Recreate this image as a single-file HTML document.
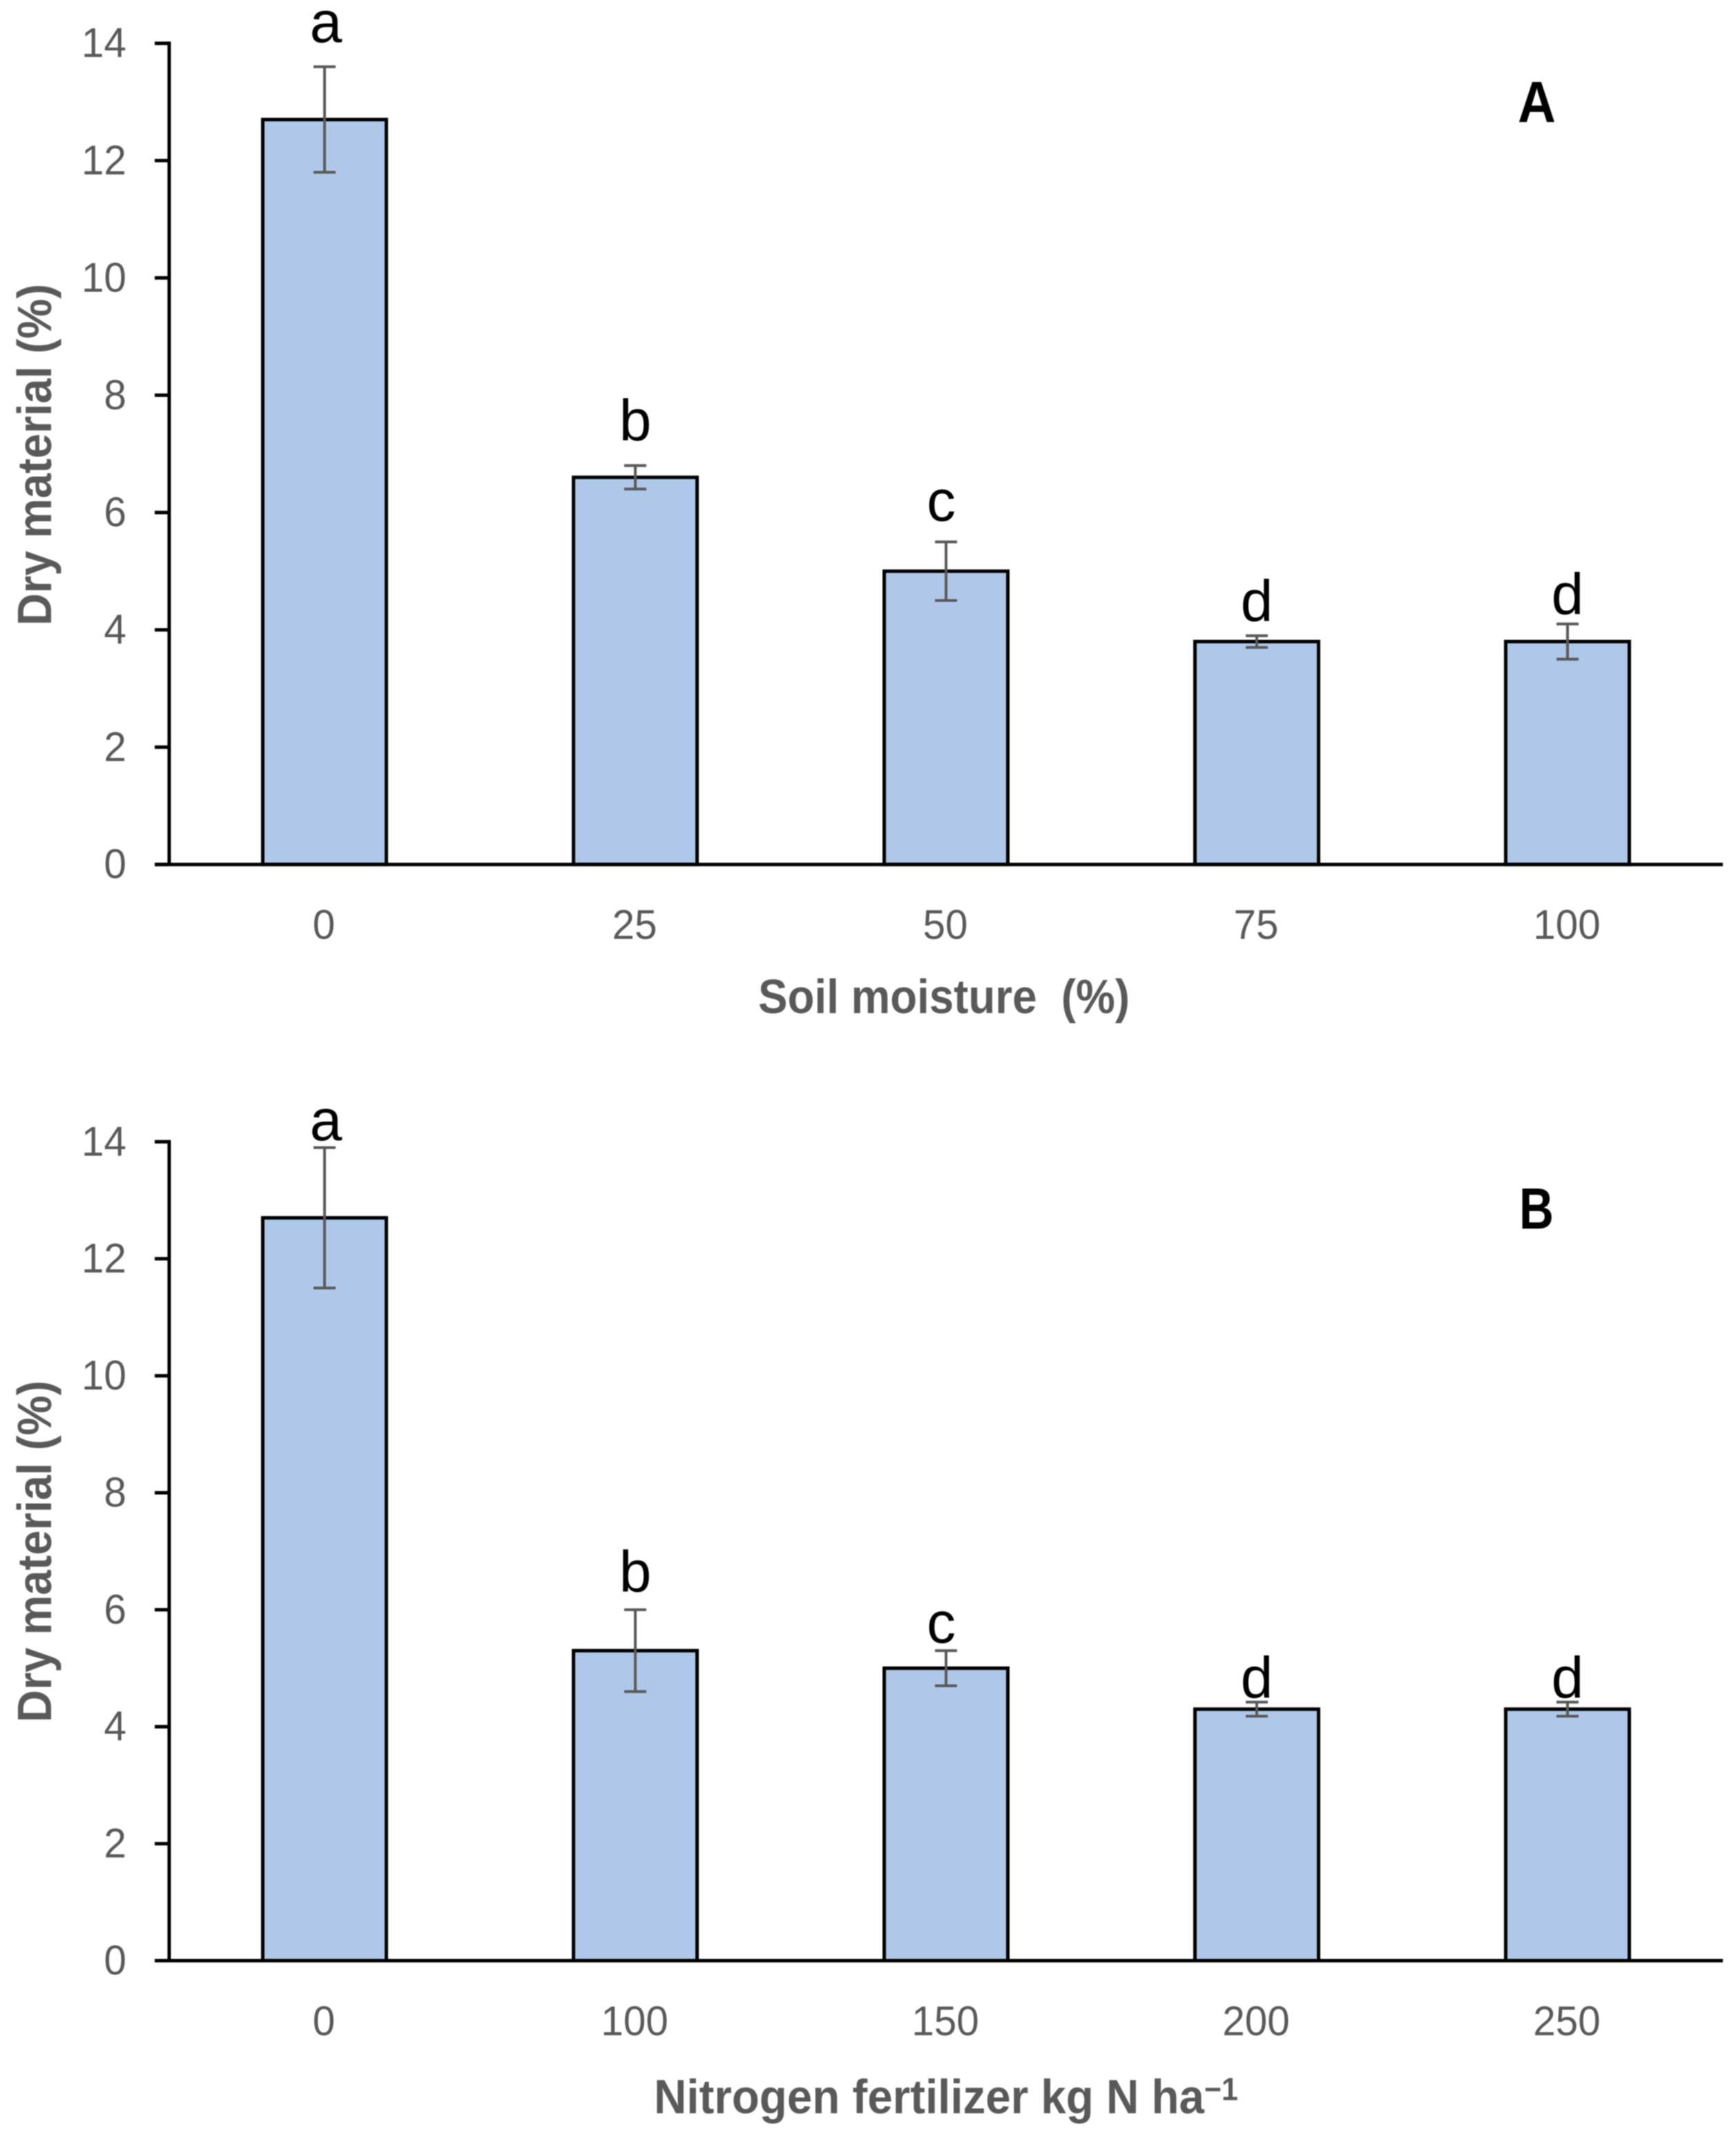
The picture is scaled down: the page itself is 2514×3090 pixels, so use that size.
<!DOCTYPE html>
<html lang="en">
<head>
<meta charset="utf-8">
<title>Dry material charts</title>
<style>
html,body{margin:0;padding:0;background:#fff;}
svg{display:block;filter:blur(0.7px);}
text{font-family:"Liberation Sans",sans-serif;}
</style>
</head>
<body>
<svg id="figure" xmlns="http://www.w3.org/2000/svg" width="2514" height="3090" viewBox="0 0 2514 3090">
  <rect width="2514" height="3090" fill="#ffffff"/>
  <g id="panel-a"></g>
  <g id="panel-b"></g>

  <text x="2198" y="177" font-size="84" font-weight="700" fill="#000" textLength="55" lengthAdjust="spacingAndGlyphs">A</text>
  <text x="2200" y="1779" font-size="84" font-weight="700" fill="#000" textLength="50" lengthAdjust="spacingAndGlyphs">B</text>

  <text x="1098" y="1467" font-size="70" font-weight="700" fill="#595959" textLength="538" lengthAdjust="spacingAndGlyphs" xml:space="preserve">Soil moisture  (%)</text>
  <text x="947" y="3060" font-size="70" font-weight="700" fill="#595959" textLength="846" lengthAdjust="spacingAndGlyphs">Nitrogen fertilizer kg N ha<tspan font-size="46" dy="-19">−1</tspan></text>

  <text transform="translate(74,906) rotate(-90)" font-size="70" font-weight="700" fill="#595959" textLength="495" lengthAdjust="spacingAndGlyphs">Dry material (%)</text>
  <text transform="translate(74,2494) rotate(-90)" font-size="70" font-weight="700" fill="#595959" textLength="495" lengthAdjust="spacingAndGlyphs">Dry material (%)</text>
</svg>
<script>
const yTicks = [0, 2, 4, 6, 8, 10, 12, 14];

const categoriesA = ['0', '25', '50', '75', '100'];
const valuesA = [12.7, 6.6, 5.0, 3.8, 3.8];
const errorsUpA = [0.9, 0.2, 0.5, 0.1, 0.3];
const errorsDownA = [0.9, 0.2, 0.5, 0.1, 0.3];
const lettersA = ['a', 'b', 'c', 'd', 'd'];
const letterLiftA = [0.42, 0.43, 0.36, 0.25, 0.17];

const categoriesB = ['0', '100', '150', '200', '250'];
const valuesB = [12.7, 5.3, 5.0, 4.3, 4.3];
const errorsUpB = [1.2, 0.7, 0.3, 0.12, 0.12];
const errorsDownB = [1.2, 0.7, 0.3, 0.12, 0.12];
const lettersB = ['a', 'b', 'c', 'd', 'd'];
const letterLiftB = [0.13, 0.31, 0.14, 0.08, 0.08];

const NS = 'http://www.w3.org/2000/svg';

function svgEl(tag, attrs) {
  const el = document.createElementNS(NS, tag);
  for (const key in attrs) {
    el.setAttribute(key, attrs[key]);
  }
  return el;
}

function drawChart(group, cfg) {
  const axisX = 245;
  const plotRight = 2495;
  const yMax = 14;
  const bandWidth = (plotRight - axisX) / cfg.categories.length;
  const barWidth = 179;

  const yScale = function (v) {
    return cfg.baseY - (v / yMax) * (cfg.baseY - cfg.topY);
  };
  const xScale = function (i) {
    return axisX + bandWidth * (i + 0.5);
  };

  cfg.values.forEach(function (value, i) {
    const cx = xScale(i);
    const bar = svgEl('rect', {
      x: cx - barWidth / 2,
      y: yScale(value),
      width: barWidth,
      height: cfg.baseY - yScale(value),
      fill: '#afc8e9',
      stroke: '#000000',
      'stroke-width': 5
    });
    
    
    group.appendChild(bar);
  });

  const yAxis = svgEl('line', {
    x1: axisX, x2: axisX, y1: yScale(yMax) - 2.5, y2: cfg.baseY,
    stroke: '#000000', 'stroke-width': 5
  });
  
  
  group.appendChild(yAxis);

  const xAxis = svgEl('line', {
    x1: 224, x2: plotRight, y1: cfg.baseY, y2: cfg.baseY,
    stroke: '#000000', 'stroke-width': 5
  });
  
  
  group.appendChild(xAxis);

  yTicks.forEach(function (tick) {
    const y = yScale(tick);
    const mark = svgEl('line', {
      x1: 224, x2: axisX, y1: y, y2: y,
      stroke: '#000000', 'stroke-width': 5
    });
    
    
    group.appendChild(mark);

    const label = svgEl('text', {
      x: 183, y: y + 20, 'text-anchor': 'end',
      'font-size': 60, fill: '#595959',
      textLength: String(tick).length * 32.5,
      lengthAdjust: 'spacingAndGlyphs'
    });
    
    
    label.textContent = String(tick);
    group.appendChild(label);
  });

  cfg.categories.forEach(function (cat, i) {
    const label = svgEl('text', {
      x: xScale(i) - 1, y: cfg.baseY + 108, 'text-anchor': 'middle',
      'font-size': 60, fill: '#595959',
      textLength: cat.length * 32.5,
      lengthAdjust: 'spacingAndGlyphs'
    });
    
    
    label.textContent = cat;
    group.appendChild(label);
  });

  cfg.values.forEach(function (value, i) {
    const cx = xScale(i);
    const yHigh = yScale(value + cfg.errorsUp[i]);
    const yLow = yScale(value - cfg.errorsDown[i]);
    const stem = svgEl('path', {
      d: 'M' + (cx - 16) + ' ' + yHigh + 'H' + (cx + 16) +
         'M' + cx + ' ' + yHigh + 'V' + yLow +
         'M' + (cx - 16) + ' ' + yLow + 'H' + (cx + 16),
      fill: 'none', stroke: '#595959', 'stroke-width': 4
    });
    
    
    group.appendChild(stem);

    const letterOffset = cfg.letters[i] === 'c' ? -7 : (cfg.letters[i] === 'a' ? 2 : 0);
    const letter = svgEl('text', {
      x: cx + letterOffset, y: yScale(value + cfg.errorsUp[i] + cfg.letterLift[i]),
      'text-anchor': 'middle', 'font-size': 84, fill: '#000000'
    });
    
    
    letter.textContent = cfg.letters[i];
    group.appendChild(letter);
  });
}

drawChart(document.getElementById('panel-a'), {
  baseY: 1251.7, topY: 62.7,
  categories: categoriesA, values: valuesA,
  errorsUp: errorsUpA, errorsDown: errorsDownA,
  letters: lettersA, letterLift: letterLiftA
});
drawChart(document.getElementById('panel-b'), {
  baseY: 2839, topY: 1653.3,
  categories: categoriesB, values: valuesB,
  errorsUp: errorsUpB, errorsDown: errorsDownB,
  letters: lettersB, letterLift: letterLiftB
});
</script>
</body>
</html>
